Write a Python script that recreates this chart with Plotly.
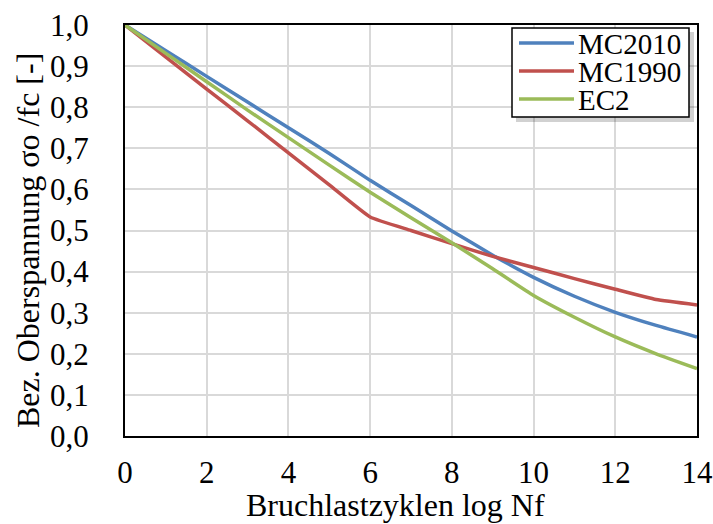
import plotly.graph_objects as go

x_vals = [0, 1, 2, 3, 4, 5, 6, 7, 8, 9, 10, 11, 12, 13, 14]
mc2010 = [1.0, 0.9375, 0.875, 0.8125, 0.75, 0.6875, 0.622, 0.561, 0.499, 0.44, 0.386, 0.34, 0.301, 0.269, 0.241]
mc1990 = [1.0, 0.922, 0.844, 0.767, 0.689, 0.611, 0.533, 0.50, 0.468, 0.437, 0.41, 0.383, 0.357, 0.332, 0.319]
ec2 = [1.0, 0.931, 0.862, 0.793, 0.726, 0.659, 0.593, 0.531, 0.470, 0.407, 0.342, 0.289, 0.241, 0.200, 0.164]

series = [("MC2010", mc2010, "#4F81BD"), ("MC1990", mc1990, "#C0504D"), ("EC2", ec2, "#9BBB59")]

x_title = "Bruchlastzyklen log Nf"
y_title = "Bez. Oberspannung σo /fc [-]"

FONT = "Liberation Serif"
FS = 31

W, H = 713, 524
L, R, T, B = 125, 16, 25, 88
PW, PH = W - L - R, H - T - B


def px_x(p):
    return (p - L) / PW


def px_y(p):
    return (H - B - p) / PH


fig = go.Figure()
for name, vals, col in series:
    fig.add_trace(go.Scatter(x=x_vals, y=vals, name=name, mode="lines", showlegend=False,
                             line=dict(color=col, width=3.5, shape="spline", smoothing=0.4)))

# manual legend box (Excel-like tight legend)
lx0, lx1, ly0, ly1 = 512, 689, 28, 117
shapes = [
    dict(type="rect", xref="paper", yref="paper", x0=px_x(lx0 + 4), x1=px_x(lx1 + 5),
         y0=px_y(ly0 + 4), y1=px_y(ly1 + 5), fillcolor="rgba(0,0,0,0.18)", line=dict(width=0), layer="above"),
    dict(type="rect", xref="paper", yref="paper", x0=px_x(lx0), x1=px_x(lx1),
         y0=px_y(ly0), y1=px_y(ly1), fillcolor="white", line=dict(color="black", width=1.5), layer="above"),
]
annotations = []
row_y = [43, 71, 99]
for (name, vals, col), ry in zip(series, row_y):
    shapes.append(dict(type="line", xref="paper", yref="paper", x0=px_x(519), x1=px_x(574),
                       y0=px_y(ry), y1=px_y(ry), line=dict(color=col, width=3.5), layer="above"))
    annotations.append(dict(xref="paper", yref="paper", x=px_x(576), y=px_y(ry + 1), text=name,
                            showarrow=False, xanchor="left", yanchor="middle",
                            font=dict(family=FONT, size=29, color="black")))

# axis titles (positioned like the Excel original)
annotations.append(dict(xref="paper", yref="paper", x=px_x(395), y=px_y(505), text=x_title,
                        showarrow=False, xanchor="center", yanchor="middle",
                        font=dict(family=FONT, size=32, color="black")))
annotations.append(dict(xref="paper", yref="paper", x=px_x(28), y=px_y(241), text=y_title,
                        showarrow=False, xanchor="center", yanchor="middle", textangle=-90,
                        font=dict(family=FONT, size=32, color="black")))

fig.update_layout(
    width=W, height=H,
    margin=dict(l=L, r=R, t=T, b=B),
    paper_bgcolor="white", plot_bgcolor="white",
    separators=",.",
    font=dict(family=FONT, size=FS, color="black"),
    showlegend=False,
    shapes=shapes, annotations=annotations,
    xaxis=dict(range=[0, 14], tickvals=list(range(0, 15, 2)), showgrid=True,
               gridcolor="#d9d9d9", gridwidth=1.5, showline=True, linecolor="black",
               linewidth=2, mirror=True, zeroline=False, automargin=False,
               ticks="outside", ticklen=8, tickcolor="rgba(0,0,0,0)",
               tickfont=dict(family=FONT, size=FS)),
    yaxis=dict(range=[0, 1.0], dtick=0.1, tickformat=".1f", showgrid=True,
               gridcolor="#d9d9d9", gridwidth=1.5, showline=True, linecolor="black",
               linewidth=2, mirror=True, zeroline=False, automargin=False,
               ticks="outside", ticklen=28, tickcolor="rgba(0,0,0,0)",
               tickfont=dict(family=FONT, size=FS)),
)

fig.write_html("out.html")
